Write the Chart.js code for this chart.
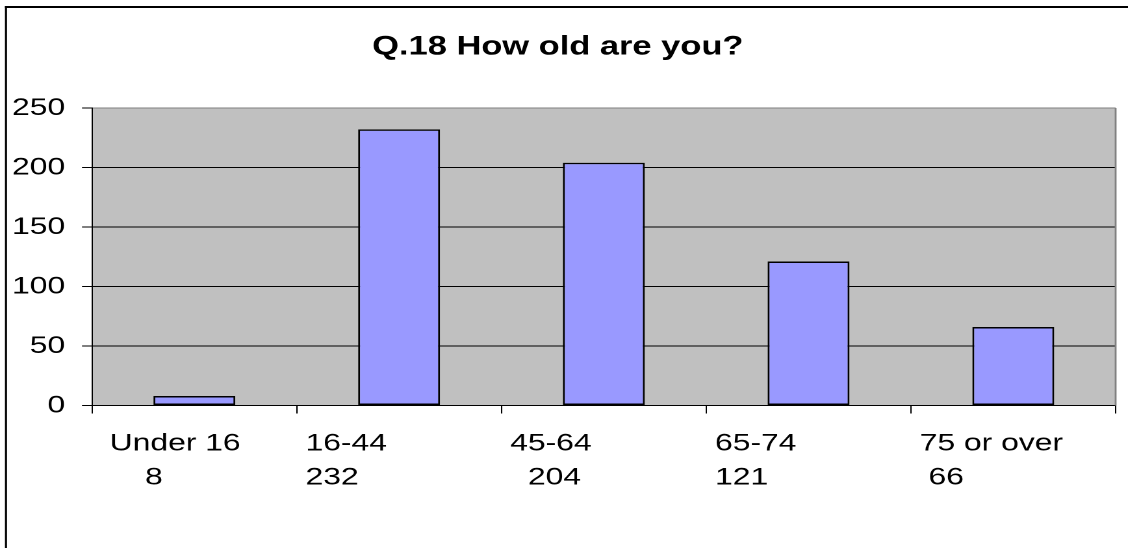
<!DOCTYPE html>
<html><head><meta charset="utf-8">
<script src="https://cdn.jsdelivr.net/npm/chart.js@4.4.1/dist/chart.umd.min.js"></script>
<style>
html,body{margin:0;padding:0;background:#fff;overflow:hidden;width:1128px;height:548px}
#wrap{position:absolute;left:0;top:0;width:868px;height:548px;transform:scaleX(1.2995);transform-origin:0 0}
</style></head><body>
<div id="wrap"><canvas id="c"></canvas></div>
<script>
// ---- data ----
const categories = ['Under 16', '16-44', '45-64', '65-74', '75 or over'];
const counts = [8, 232, 204, 121, 66];
const yTicks = [0, 50, 100, 150, 200, 250];
const titleText = 'Q.18 How old are you?';

// text indentation (leading spaces) of the two label lines, as in the original
const lead1 = [1, 0, 0, 0, 0];
const lead2 = [5, 0, 2, 0, 1];
const tickLabels = categories.map((c, i) => [' '.repeat(lead1[i]) + c, ' '.repeat(lead2[i]) + counts[i]]);

const FONT = '"Liberation Sans", Arial, Helvetica, sans-serif';

const frame = {
  id: 'frame',
  beforeDraw(chart) {
    const {ctx, chartArea: a} = chart;
    ctx.save();
    ctx.fillStyle = '#ffffff';
    ctx.fillRect(0, 0, chart.width, chart.height);
    ctx.fillStyle = '#C0C0C0';
    ctx.fillRect(a.left, a.top, a.right - a.left, a.bottom - a.top);
    ctx.restore();
  },
  afterDraw(chart) {
    const {ctx, chartArea: a} = chart;
    ctx.save();
    ctx.strokeStyle = '#808080';
    ctx.lineWidth = 1.4;
    ctx.beginPath();
    ctx.moveTo(a.right, a.top);
    ctx.lineTo(a.right, a.bottom);
    ctx.stroke();
    ctx.strokeStyle = '#000';
    ctx.lineWidth = 2;
    ctx.beginPath();
    ctx.moveTo(3.8, 7);
    ctx.lineTo(chart.width + 2, 7);
    ctx.stroke();
    ctx.lineWidth = 1.6;
    ctx.beginPath();
    ctx.moveTo(4.6, 6);
    ctx.lineTo(4.6, chart.height + 2);
    ctx.stroke();
    ctx.restore();
  }
};

new Chart(document.getElementById('c'), {
  type: 'bar',
  data: {
    labels: tickLabels,
    datasets: [{
      data: counts,
      backgroundColor: '#9999FF',
      borderColor: '#000000',
      borderWidth: 1.5,
      borderSkipped: false,
      barPercentage: 0.4,
      categoryPercentage: 1.0
    }]
  },
  plugins: [frame],
  options: {
    responsive: true,
    maintainAspectRatio: false,
    devicePixelRatio: 2,
    animation: false,
    layout: {padding: {left: 0, right: 9.5, top: 0, bottom: 0}},
    plugins: {
      legend: {display: false},
      tooltip: {enabled: false},
      title: {
        display: true,
        text: titleText,
        color: '#000',
        font: {family: FONT, size: 26.5, weight: 'bold', lineHeight: 1.2},
        padding: {top: 31.1, bottom: 45.1}
      }
    },
    scales: {
      x: {
        ticks: {
          color: '#000',
          font: {family: FONT, size: 24.5, lineHeight: 1.4},
          align: 'start',
          labelOffset: -72,
          padding: 13,
          autoSkip: false,
          maxRotation: 0,
          minRotation: 0
        },
        grid: {offset: true, drawOnChartArea: false, drawTicks: true, tickLength: 8, color: '#000', tickColor: '#000', lineWidth: 1},
        border: {color: '#000', width: 1},
        afterFit(s) { s.height = 142.5; s.paddingLeft = 0; s.paddingRight = 0; }
      },
      y: {
        min: 0,
        max: 250,
        afterBuildTicks(s) { s.ticks = yTicks.map(v => ({value: v})); },
        ticks: {
          color: '#000',
          font: {family: FONT, size: 24.5},
          padding: 13
        },
        grid: {
          color: c => (c.tick && c.tick.value === 250) ? '#808080' : '#000',
          tickColor: '#000',
          tickLength: 7.7,
          lineWidth: 1
        },
        border: {color: '#000', width: 1},
        afterFit(s) { s.width = 70.8; s.paddingTop = 0; s.paddingBottom = 0; }
      }
    }
  }
});
</script>
</body></html>
